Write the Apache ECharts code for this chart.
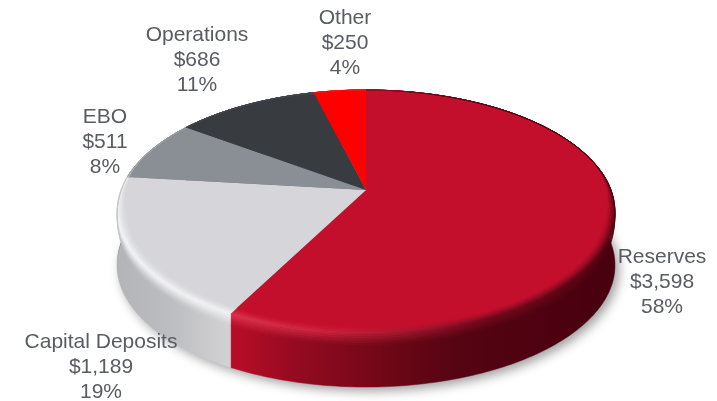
<!DOCTYPE html>
<html>
<head>
<meta charset="utf-8">
<style>html,body{margin:0;padding:0;background:#fff}#c{width:717px;height:401px}</style>
<script src="https://cdn.jsdelivr.net/npm/echarts@6/dist/echarts.min.js"></script>
</head>
<body>
<div id="c"></div>
<script>
// ---- data ----
const categories = ['Reserves', 'Capital Deposits', 'EBO', 'Operations', 'Other'];
const amounts = [3598, 1189, 511, 686, 250];

// ---- styles ----
const faceColors = ['#c30f2c', '#d6d6da', '#8a8e95', '#383b40', '#fe0000'];
const wallStops = [
  [[232, '#b80d28'], [300, '#930a20'], [370, '#760818'], [450, '#560412'], [614, '#48000f']],
  [[117, '#b2b4b7'], [170, '#bcbdc0'], [232, '#d4d4d6']],
  [[117, '#8a8e95']], [[117, '#383b40']], [[117, '#fe0000']]
];
const rimStops = [
  [[232, '#de3550'], [320, '#d02640'], [400, '#a81830'], [480, '#7a0a1e'], [614, '#58040f']],
  [[117, '#f6f7f9'], [232, '#f4f4f6']],
  [[117, '#dfe1e5'], [190, '#a0a4aa']],
  [[117, '#50545a']],
  [[117, '#ff2020']]
];
const labelAnchors = [[662, 282], [101, 367], [105, 142], [197, 60], [345, 43]];

// ---- scales of the perspective disc ----
const CX = 366, CY = 190, A = 245, B = 117.7, K = 0.177, DEPTH = 54, BEVEL_DROP = 12;
const total = amounts.reduce((a, b) => a + b, 0);
const TAU = Math.PI * 2;
function startAngle(i) {
  let s = 0;
  for (let j = 0; j < i; j++) s += amounts[j];
  return s / total * TAU;
}
function project(th, r, dy) {
  const u = r * Math.sin(th), v = -r * Math.cos(th), d = 1 - K * v;
  return [CX + A * u / d, CY + B * v / d + dy];
}
function arc(a0, a1, r, dy) {
  const n = Math.max(4, Math.ceil((a1 - a0) / TAU * 360)), pts = [];
  for (let i = 0; i <= n; i++) {
    const th = a0 + (a1 - a0) * i / n;
    pts.push(project(th, typeof r === 'function' ? r(th) : r, typeof dy === 'function' ? dy(th) : dy));
  }
  return pts;
}
function hex(c) { return [1, 3, 5].map(i => parseInt(c.substr(i, 2), 16)); }
function sample(stops, x) {
  if (x <= stops[0][0]) return hex(stops[0][1]);
  for (let i = 1; i < stops.length; i++) {
    if (x <= stops[i][0]) {
      const f = (x - stops[i - 1][0]) / (stops[i][0] - stops[i - 1][0]);
      const a = hex(stops[i - 1][1]), b = hex(stops[i][1]);
      return a.map((v, k) => v + (b[k] - v) * f);
    }
  }
  return hex(stops[stops.length - 1][1]);
}
const X0 = 110, X1 = 620;
function hGradient(fn) {
  const colorStops = [];
  for (let i = 0; i <= 16; i++) {
    const x = X0 + (X1 - X0) * i / 16, c = fn(x);
    colorStops.push({ offset: i / 16, color: 'rgb(' + c.map(Math.round).join(',') + ')' });
  }
  return { type: 'linear', x: X0, y: 0, x2: X1, y2: 0, global: true, colorStops };
}
const mix = (a, b, f) => a.map((v, i) => v + (b[i] - v) * f);
const clamp01 = x => Math.min(1, Math.max(0, x));
const smooth = x => { const t = clamp01(x); return t * t * (3 - 2 * t); };
function inset(th) {
  const v = -Math.cos(th);
  return 0.003 + 0.036 * smooth((v + 0.3) / 0.6);
}
function bevelDrop(th) {
  const v = -Math.cos(th);
  return BEVEL_DROP * smooth((v + 0.1) / 0.6);
}

function renderBase() {
  const bottom = arc(0, TAU, 1, DEPTH - 2);
  return {
    type: 'polygon', shape: { points: bottom }, silent: true,
    style: { fill: '#777', shadowBlur: 11, shadowColor: 'rgba(0,0,0,0.38)', shadowOffsetX: 4, shadowOffsetY: 6 }
  };
}
function renderWall(params) {
  const i = params.dataIndex, a0 = startAngle(i), a1 = startAngle(i + 1);
  const pts = arc(a0, a1, 1, 0).concat(arc(a0, a1, 1, DEPTH).reverse());
  const fill = hGradient(x => sample(wallStops[i], x));
  return { type: 'polygon', shape: { points: pts }, style: { fill, stroke: fill, lineWidth: 0.5 } };
}
function renderFace(params) {
  const i = params.dataIndex, a0 = startAngle(i), a1 = startAngle(i + 1);
  const face = hex(faceColors[i]);
  const children = [{
    type: 'polygon',
    shape: { points: [[CX, CY]].concat(arc(a0, a1, 1, 0)) },
    style: { fill: faceColors[i] }
  }];
  const N = 14;
  const pos = t => t < 0.5
    ? { r: th => 1 - inset(th) * (1 - t / 0.5), dy: 0 }
    : { r: 1, dy: th => (t - 0.5) / 0.5 * bevelDrop(th) };
  for (let n = 0; n < N; n++) {
    const t0 = n / N, t1 = (n + 1) / N, tm = (t0 + t1) / 2;
    const p0 = pos(t0), p1 = pos(t1);
    const pts = arc(a0, a1, p0.r, p0.dy).concat(arc(a0, a1, p1.r, p1.dy).reverse());
    const fill = hGradient(x => {
      const rim = sample(rimStops[i], x), wall = sample(wallStops[i], x);
      return tm < 0.5 ? mix(face, rim, Math.pow(tm / 0.5, 1.4)) : mix(rim, wall, (tm - 0.5) / 0.5);
    });
    children.push({ type: 'polygon', shape: { points: pts }, style: { fill, stroke: fill, lineWidth: 0.3 } });
  }
  return { type: 'group', children };
}
function renderLabel(params) {
  const i = params.dataIndex;
  const pct = Math.round(amounts[i] / total * 100);
  return {
    type: 'text',
    style: {
      text: categories[i] + '\n$' + amounts[i].toLocaleString('en-US') + '\n' + pct + '%',
      x: labelAnchors[i][0], y: labelAnchors[i][1],
      textAlign: 'center', textVerticalAlign: 'middle',
      font: '21px "Liberation Sans", Arial, sans-serif', lineHeight: 24.8, fill: '#585c63'
    }
  };
}
const rows = categories.map((name, i) => ({ name, value: amounts[i] }));
const chart = echarts.init(document.getElementById('c'), null, { renderer: 'canvas' });
chart.setOption({
  animation: false,
  backgroundColor: '#ffffff',
  tooltip: { show: false },
  series: [
    { type: 'custom', name: 'base', coordinateSystem: 'none', z: 1, silent: true, data: [{ value: total }], renderItem: renderBase },
    { type: 'custom', name: 'walls', coordinateSystem: 'none', z: 2, silent: true, data: rows, renderItem: renderWall },
    { type: 'custom', name: 'faces', coordinateSystem: 'none', z: 3, silent: true, data: rows, renderItem: renderFace },
    { type: 'custom', name: 'labels', coordinateSystem: 'none', z: 4, silent: true, data: rows, renderItem: renderLabel }
  ]
});
</script>
</body>
</html>
